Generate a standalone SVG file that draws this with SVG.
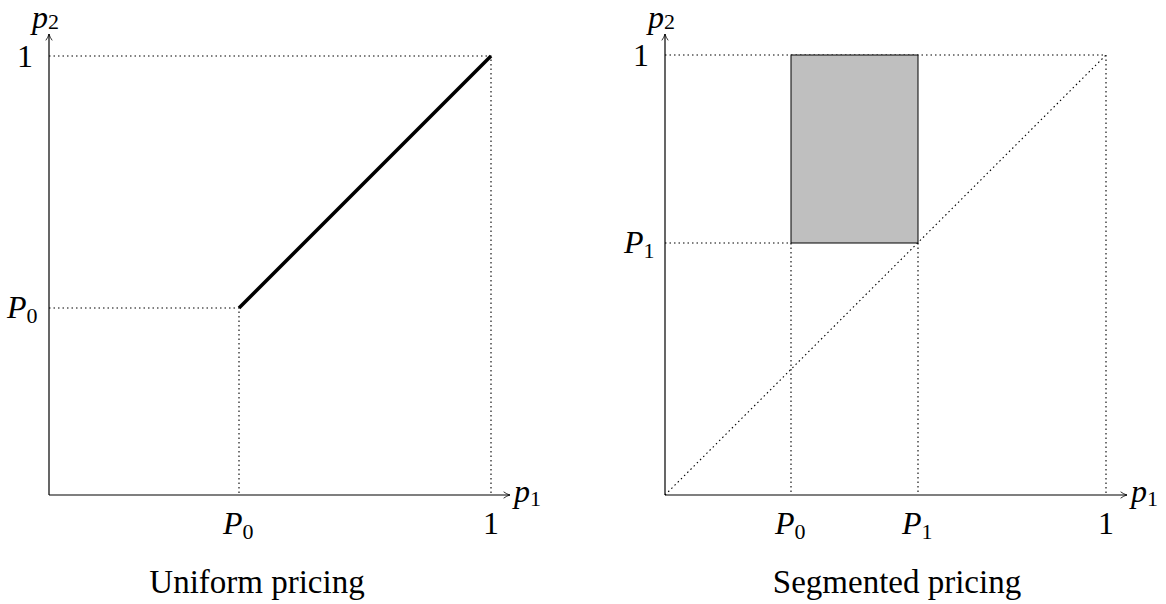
<svg xmlns="http://www.w3.org/2000/svg" width="1166" height="604" viewBox="0 0 1166 604">
<style>
.ax{stroke:#000;stroke-width:1.2;fill:none}
.dot{stroke:#000;stroke-width:1.1;stroke-dasharray:1.5 3;fill:none}
text{fill:#000}
.t{font-size:32px}
.m{font-style:italic;font-size:32px}
.s{font-size:22px;font-style:normal}
.cap{font-size:33px;text-anchor:middle}
</style>
<defs>
<marker id="arr" viewBox="0 0 10 10" refX="9" refY="5" markerWidth="8" markerHeight="8" orient="auto" markerUnits="userSpaceOnUse">
<path d="M1,1 Q5,4 9,5 Q5,6 1,9" fill="none" stroke="#000" stroke-width="1"/>
</marker>
</defs>
<g id="connectors">
<path class="dot" d="M49,56 H491 V495"/>
<path class="dot" d="M49,308 H239 V495"/>
<line x1="239" y1="308" x2="491" y2="56" stroke="#000" stroke-width="3.5"/>
<path class="dot" d="M665,55 H1106 V495"/>
<path class="dot" d="M665,243 H791 V495"/>
<path class="dot" d="M918,243 V495"/>
<line class="dot" x1="665" y1="495" x2="1106" y2="55"/>
</g>
<g id="left-axes" font-family="Liberation Serif, serif">
<line class="ax" x1="49" y1="495" x2="49" y2="34" marker-end="url(#arr)"/>
<line class="ax" x1="49" y1="495" x2="510" y2="495" marker-end="url(#arr)"/>
<text class="m" x="32" y="28" font-size="26">p<tspan class="s" font-size="19" dy="1">2</tspan></text>
<text class="m" x="514" y="502">p<tspan class="s" dy="4">1</tspan></text>
<text class="t" x="17" y="67">1</text>
<text class="m" x="7" y="318">P<tspan class="s" dy="5">0</tspan></text>
<text class="m" x="223" y="534">P<tspan class="s" dy="5">0</tspan></text>
<text class="t" x="483" y="534">1</text>
</g>
<g id="shaded-rect">
<rect x="791" y="55" width="127" height="188" fill="#bfbfbf" stroke="#000" stroke-width="1"/>
</g>
<g id="right-axes" font-family="Liberation Serif, serif">
<line class="ax" x1="665" y1="495" x2="665" y2="34" marker-end="url(#arr)"/>
<line class="ax" x1="665" y1="495" x2="1127" y2="495" marker-end="url(#arr)"/>
<text class="m" x="648" y="28" font-size="26">p<tspan class="s" font-size="19" dy="1">2</tspan></text>
<text class="m" x="1131" y="502">p<tspan class="s" dy="4">1</tspan></text>
<text class="t" x="633" y="66">1</text>
<text class="m" x="624" y="253">P<tspan class="s" dy="5">1</tspan></text>
<text class="m" x="775" y="534">P<tspan class="s" dy="5">0</tspan></text>
<text class="m" x="902" y="534">P<tspan class="s" dy="5">1</tspan></text>
<text class="t" x="1098" y="534">1</text>
</g>
<g id="captions" font-family="Liberation Serif, serif">
<text class="cap" x="257" y="593">Uniform pricing</text>
<text class="cap" x="897" y="593">Segmented pricing</text>
</g>
</svg>
